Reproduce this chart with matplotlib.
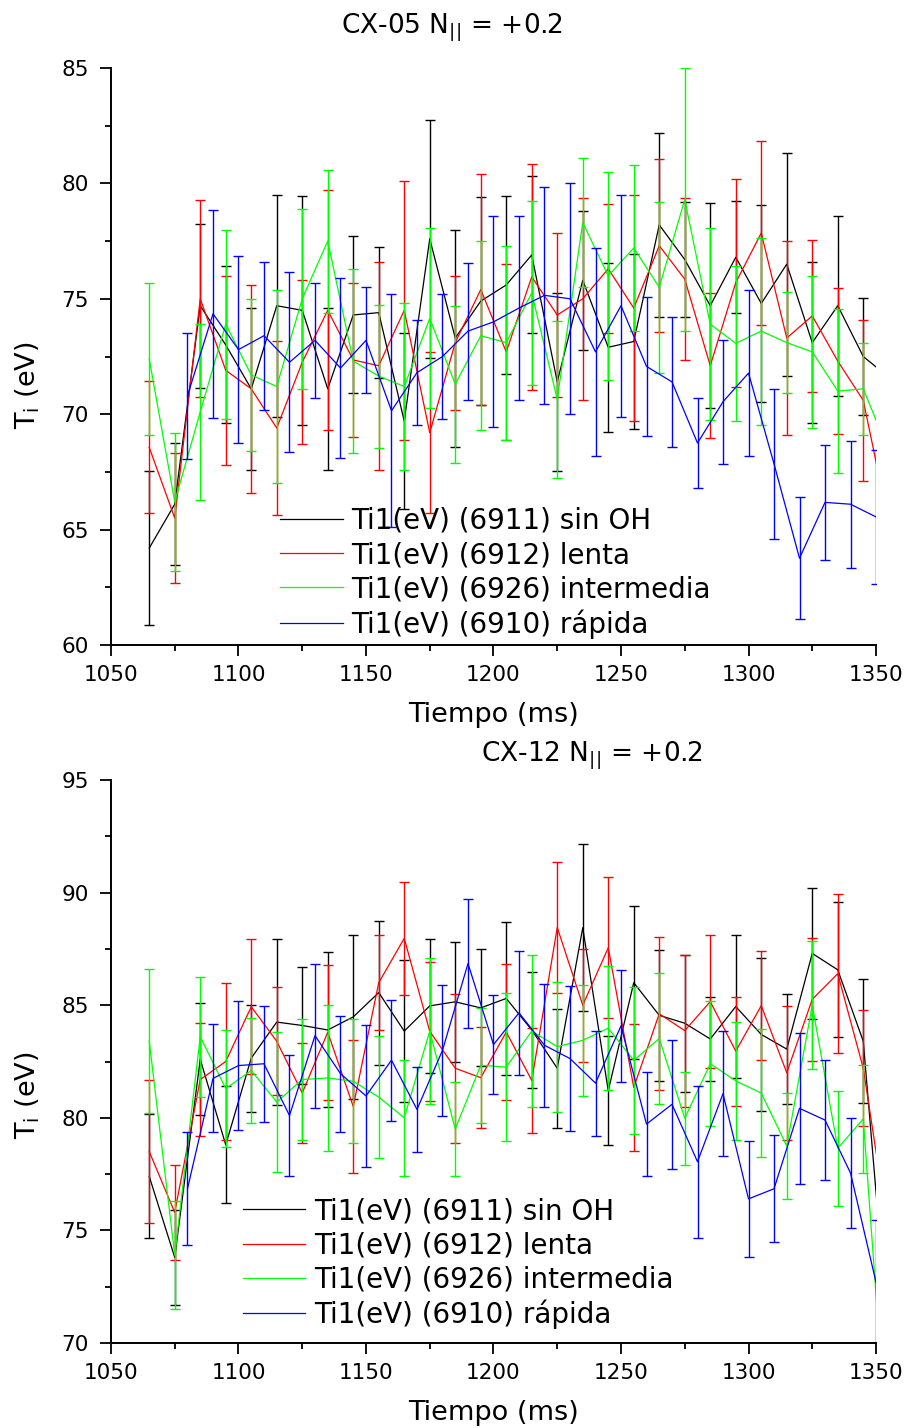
import matplotlib
matplotlib.use('Agg')
import matplotlib.pyplot as plt
from matplotlib.ticker import MultipleLocator

# DejaVu is wide enough to mimic the loose letter spacing of the original
plt.rcParams['font.family'] = ['DejaVu Sans']
plt.rcParams['mathtext.default'] = 'regular'

# sample times (ms); shots 6911/6912/6926 share one grid, 6910 is offset by 5 ms
t_main = [1065, 1075, 1085, 1095, 1105, 1115, 1125, 1135, 1145, 1155,
          1165, 1175, 1185, 1195, 1205, 1215, 1225, 1235, 1245, 1255,
          1265, 1275, 1285, 1295, 1305, 1315, 1325, 1335, 1345, 1355]
t_fast = [1080, 1090, 1100, 1110, 1120, 1130, 1140, 1150, 1160, 1170,
          1180, 1190, 1200, 1210, 1220, 1230, 1240, 1250, 1260, 1270,
          1280, 1290, 1300, 1310, 1320, 1330, 1340, 1350]

labels = ['Ti1(eV) (6911) sin OH', 'Ti1(eV) (6912) lenta',
          'Ti1(eV) (6926) intermedia', 'Ti1(eV) (6910) rápida']
colors = ['#000000', '#ff0000', '#00ff00', '#0000ff']

# ---- CX-05 ----
cx05_6911 = [64.2, 66.1, 74.7, 73.0, 71.1, 74.7, 74.5, 71.1, 74.3, 74.4,
             69.7, 77.6, 73.3, 74.9, 75.6, 76.9, 71.4, 75.8, 72.9, 73.15,
             78.2, 76.7, 74.7, 76.8, 74.8, 76.5, 73.1, 74.7, 72.5, 71.6]
cx05_6911_err = [3.35, 2.65, 3.55, 3.4, 3.5, 4.8, 4.95, 3.5, 3.4, 2.85,
                 3.8, 5.15, 4.7, 4.5, 3.86, 3.4, 3.87, 3.0, 3.65, 3.8,
                 4.0, 2.5, 4.45, 2.42, 4.28, 4.83, 3.5, 3.9, 2.53, 2.5]
cx05_6912 = [68.56, 65.5, 75.0, 71.9, 71.1, 69.4, 72.25, 74.5, 72.35, 72.1,
             74.5, 69.2, 73.1, 75.4, 72.7, 75.95, 74.3, 75.0, 76.3, 74.6,
             77.3, 75.85, 72.1, 75.7, 77.85, 73.3, 74.26, 72.3, 70.6, 65.3]
cx05_6912_err = [2.86, 2.8, 4.27, 4.1, 4.5, 3.75, 3.56, 5.2, 3.33, 4.5,
                 5.6, 3.5, 2.9, 5.0, 3.8, 4.9, 3.55, 4.37, 2.8, 4.9,
                 3.75, 3.5, 3.13, 4.5, 4.0, 4.2, 3.3, 3.15, 3.5, 3.0]
cx05_6926 = [72.4, 66.2, 70.1, 73.9, 71.7, 71.2, 75.0, 77.5, 72.3, 71.65,
             71.2, 74.15, 71.3, 73.4, 73.1, 75.25, 70.65, 78.3, 76.0, 77.2,
             75.5, 79.3, 73.9, 73.07, 73.6, 73.1, 72.7, 71.0, 71.1, 68.4]
cx05_6926_err = [3.3, 3.0, 3.8, 4.1, 3.3, 4.2, 3.9, 3.1, 4.0, 3.1,
                 3.6, 3.9, 3.4, 4.1, 4.2, 4.0, 3.4, 2.8, 4.5, 3.6,
                 3.7, 5.7, 4.15, 3.35, 4.05, 2.2, 3.3, 3.55, 2.0, 2.5]
cx05_6910 = [70.8, 74.35, 72.8, 73.4, 72.25, 73.2, 72.0, 73.2, 70.15, 71.8,
             72.5, 73.6, 74.0, 74.6, 75.15, 75.0, 72.7, 74.7, 72.07, 71.4,
             68.75, 70.54, 71.78, 67.85, 63.76, 66.18, 66.1, 65.55]
cx05_6910_err = [2.73, 4.5, 4.06, 3.2, 3.9, 2.5, 3.9, 2.3, 5.04, 2.27,
                 2.7, 2.97, 4.57, 4.0, 4.7, 5.0, 4.5, 4.8, 3.0, 2.8,
                 1.95, 2.68, 3.6, 3.25, 2.65, 2.5, 2.75, 2.9]

# ---- CX-12 ----
cx12_6911 = [77.4, 73.8, 82.6, 78.8, 82.65, 84.25, 84.1, 83.9, 84.48, 85.56,
             83.85, 84.97, 85.15, 84.88, 85.3, 83.9, 82.2, 88.44, 81.2, 86.0,
             84.55, 84.2, 83.5, 84.94, 83.7, 83.05, 87.3, 86.57, 83.4, 70.0]
cx12_6911_err = [2.75, 2.1, 2.48, 2.6, 2.37, 3.7, 2.6, 3.44, 3.64, 3.2,
                 3.15, 2.97, 2.67, 2.6, 3.4, 2.57, 2.65, 3.7, 2.42, 3.4,
                 2.9, 3.05, 1.87, 3.18, 3.4, 2.44, 2.92, 3.0, 2.75, 2.5]
cx12_6912 = [78.5, 75.8, 81.7, 82.5, 84.93, 83.4, 81.1, 83.8, 80.5, 86.0,
             87.97, 83.84, 82.2, 81.78, 83.81, 81.66, 88.45, 85.0, 87.55, 81.35,
             84.62, 83.87, 85.16, 82.96, 84.98, 82.0, 85.26, 86.4, 82.2, 74.8]
cx12_6912_err = [3.16, 2.1, 2.5, 3.5, 3.0, 2.4, 2.2, 3.0, 2.95, 2.1,
                 2.5, 3.1, 3.3, 2.23, 3.04, 2.32, 2.93, 2.5, 3.13, 2.83,
                 3.39, 3.38, 2.95, 2.42, 2.41, 2.97, 2.74, 3.54, 2.58, 2.5]
cx12_6926 = [83.4, 73.9, 83.6, 81.3, 82.1, 80.7, 81.7, 81.77, 81.62, 80.92,
             80.0, 83.85, 79.5, 82.33, 82.25, 83.85, 83.16, 83.44, 83.98, 82.55,
             83.52, 79.98, 82.4, 81.64, 81.1, 78.75, 85.0, 78.65, 79.95, 64.4]
cx12_6926_err = [3.2, 2.4, 2.67, 2.6, 2.35, 3.1, 2.67, 3.25, 2.76, 2.72,
                 2.57, 3.25, 2.1, 2.55, 3.28, 3.38, 2.88, 2.47, 2.76, 3.28,
                 2.92, 2.07, 2.78, 2.62, 2.83, 2.34, 2.84, 2.55, 2.4, 2.5]
cx12_6910 = [76.85, 81.75, 82.32, 82.4, 80.1, 83.65, 81.96, 80.97, 82.56, 80.37,
             83.0, 86.85, 83.25, 84.66, 83.22, 82.63, 81.54, 84.08, 79.72, 80.6,
             78.05, 81.07, 76.4, 76.85, 80.42, 79.9, 77.55, 72.7]
cx12_6910_err = [2.5, 2.4, 2.87, 2.57, 2.7, 3.2, 2.57, 3.15, 2.68, 1.88,
                 2.9, 2.88, 2.2, 2.74, 2.72, 3.23, 2.33, 2.5, 2.31, 2.87,
                 3.37, 2.78, 2.59, 2.37, 3.34, 2.67, 2.45, 2.75]


def draw_panel(ax, series, ylim, legend_xy, ylabel_y):
    for (t, v, e), c, lab in zip(series, colors, labels):
        ax.plot(t, v, color=c, lw=0.9, label=lab)
        ax.errorbar(t, v, yerr=e, fmt='none', ecolor=c, elinewidth=1.0,
                    capsize=3.6, capthick=1.0)
    ax.set_xlim(1050, 1350)
    ax.set_ylim(*ylim)
    ax.xaxis.set_major_locator(MultipleLocator(50))
    ax.xaxis.set_minor_locator(MultipleLocator(25))
    ax.yaxis.set_major_locator(MultipleLocator(5))
    ax.yaxis.set_minor_locator(MultipleLocator(2.5))
    for side in ['top', 'right']:
        ax.spines[side].set_visible(False)
    for side in ['left', 'bottom']:
        ax.spines[side].set_linewidth(1.4)
    ax.tick_params(which='major', direction='out', length=8, width=1.3,
                   labelsize=15.5, pad=6.5)
    ax.tick_params(which='minor', direction='out', length=4.5, width=1.3)
    ax.tick_params(axis='y', which='major', pad=8)
    ax.set_xlabel('Tiempo (ms)', fontsize=19.5, labelpad=12)
    ax.set_ylabel('T$_i$ (eV)', fontsize=19.5)
    ax.yaxis.set_label_coords(-0.09, ylabel_y)
    ax.legend(loc='center left', bbox_to_anchor=legend_xy, frameon=False,
              fontsize=20, handlelength=2.25, handletextpad=0.32,
              labelspacing=0.22, borderpad=0, borderaxespad=0)


fig = plt.figure(figsize=(9.06, 14.28), dpi=100)

ax1 = fig.add_axes([0.1225, 0.5483, 0.8444, 0.4041])
draw_panel(ax1, [(t_main, cx05_6911, cx05_6911_err),
                 (t_main, cx05_6912, cx05_6912_err),
                 (t_main, cx05_6926, cx05_6926_err),
                 (t_fast, cx05_6910, cx05_6910_err)],
           (60, 85), (0.221, 0.125), 0.45)
fig.text(0.499, 0.9769, 'CX-05 N$_{||}$ = +0.2', ha='center', va='baseline',
         fontsize=19)

ax2 = fig.add_axes([0.1225, 0.0595, 0.8444, 0.3943])
draw_panel(ax2, [(t_main, cx12_6911, cx12_6911_err),
                 (t_main, cx12_6912, cx12_6912_err),
                 (t_main, cx12_6926, cx12_6926_err),
                 (t_fast, cx12_6910, cx12_6910_err)],
           (70, 95), (0.1725, 0.142), 0.44)
fig.text(0.653, 0.4671, 'CX-12 N$_{||}$ = +0.2', ha='center', va='baseline',
         fontsize=19)

fig.savefig('out.png', dpi=100)
